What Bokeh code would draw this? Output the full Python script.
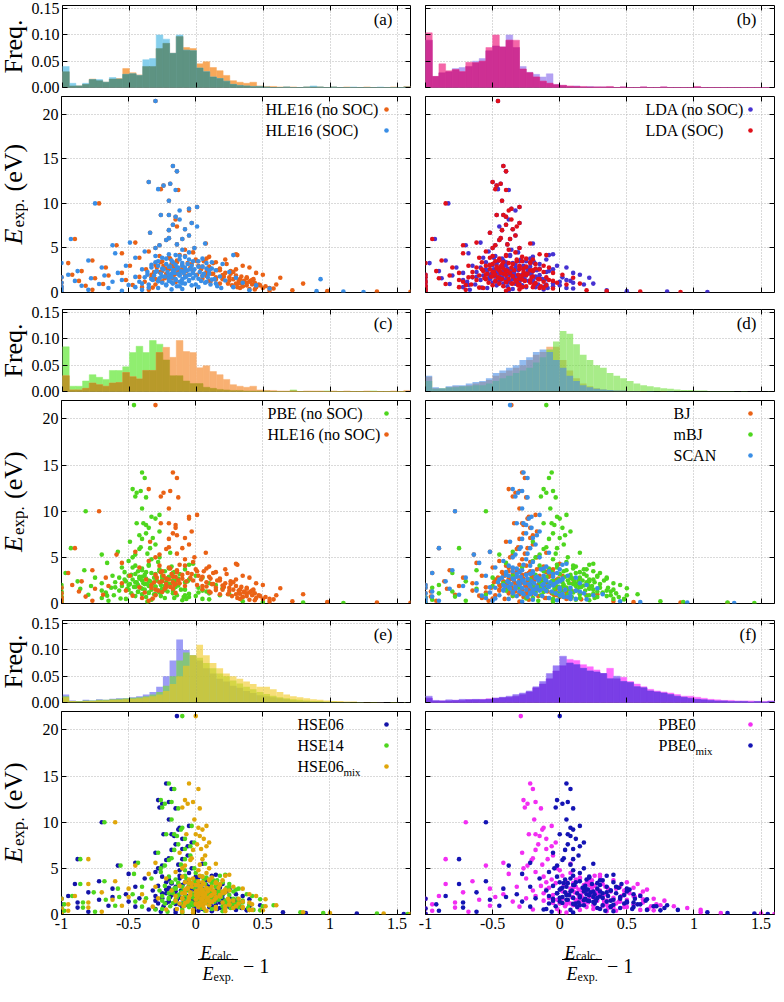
import math
from bokeh.plotting import figure
from bokeh.models import (Range1d, FixedTicker, LinearAxis, Grid, Label,
                          CustomJSTickFormatter, PrintfTickFormatter)
from bokeh.layouts import row, column
from bokeh.embed import file_html
from bokeh.resources import INLINE

FONT = "Liberation Serif"

# ---------------------------------------------------------------- data
X_TICKS = [-1, -0.5, 0, 0.5, 1, 1.5]
HIST_TICKS = [0, 0.05, 0.10, 0.15]
SCAT_TICKS = [0, 5, 10, 15, 20]
XR = (-1.0, 1.6)
HIST_YR = (0.0, 0.156)
SCAT_YR = (0.0, 22.0)
BIN_EDGES = [round(-1 + 0.05 * i, 2) for i in range(53)]

# experimental gaps (eV) of the materials shown
E_EXP_H = [21.5, 14.2, 13.6, 12.4, 12.2, 12.0, 11.6, 11.5, 10.3, 10.0,
           9.6, 9.4, 9.2, 8.7, 8.7, 8.5, 8.2, 7.8, 7.6, 7.4,
           7.1, 7.0, 6.7, 6.4, 6.1, 6.0, 6.0, 5.9, 5.6, 5.5,
           5.4, 5.3, 5.3, 5.0, 5.0]
E_EXP_M = [4.8, 4.6, 4.5, 4.4, 4.3, 4.2, 4.2, 4.1, 4.0, 3.9,
           3.8, 3.8, 3.7, 3.6, 3.5, 3.5, 3.4, 3.4, 3.3, 3.2,
           3.2, 3.1, 3.0, 3.0, 2.9, 2.9, 2.8, 2.8, 2.7, 2.7,
           2.6, 2.6, 2.5, 2.5, 2.4, 2.4, 2.3, 2.3, 2.2, 2.2,
           2.1, 2.1, 2.0, 2.0, 2.0]
E_EXP_L = [1.95, 1.9, 1.85, 1.8, 1.8, 1.75, 1.7, 1.7, 1.65, 1.6,
           1.6, 1.55, 1.5, 1.5, 1.45, 1.4, 1.4, 1.35, 1.3, 1.3,
           1.25, 1.2, 1.2, 1.15, 1.1, 1.1, 1.05, 1.0, 1.0, 0.95,
           0.9, 0.9, 0.85, 0.8, 0.75, 0.7, 0.65, 0.6, 0.55, 0.5,
           0.45, 0.4, 0.35, 0.3, 0.25, 0.2, 0.15, 0.1, 0.08, 0.05]
E_EXP_C = [4.1, 3.9, 3.7, 3.6, 3.5, 3.4, 3.3, 3.3, 3.2, 3.1,
           3.0, 3.0, 2.9, 2.9, 2.8, 2.8, 2.7, 2.7, 2.6, 2.6,
           2.5, 2.5, 2.5, 2.4, 2.4, 2.3, 2.3, 2.3, 2.2, 2.2,
           2.1, 2.1, 2.1, 2.0, 2.0, 1.9, 1.9, 1.9, 1.8, 1.8,
           1.7, 1.7, 1.7, 1.6, 1.6, 1.5, 1.5, 1.5, 1.4, 1.4,
           1.3, 1.3, 1.2, 1.2, 1.1, 1.1, 1.0, 1.0, 0.9, 0.9,
           0.8, 0.8, 0.7, 0.7, 0.6, 0.6, 0.5, 0.5, 0.4, 0.3]
E_EXP = E_EXP_H + E_EXP_M + E_EXP_L + E_EXP_C

# relative errors E_calc/E_exp - 1, same material order as E_EXP
X_HLE16_SOC = [
    -0.30, -0.17, -0.14, -0.35, -0.19, -0.24, -0.28, -0.15, -0.20, -0.75,
    0.01, -0.05, -0.12, -0.26, -0.20, -0.15, -0.12, -0.03, -0.17, 0.01,
    -0.08, -0.20, -0.34, -0.05, -0.20, -0.93, -0.10, -0.22, -0.49, 0.07,
    -0.14, -0.62, -0.27, -0.01, -0.30,
    -0.10, -0.38, -0.05, -0.60, -0.20, 0.28, -0.15, -0.30, -0.08, -0.45,
    0.05, -0.22, -0.12, -0.80, -0.02, -0.28, 0.12, -0.17, -1.0, -0.06,
    0.20, -0.33, -0.10, -0.52, 0.02, -0.20, -0.70, -0.13, 0.08, -0.25,
    -0.04, -0.40, 0.15, -0.16, -0.88, -0.08, 0.25, -0.30, -0.02, -0.58,
    -0.18, 0.10, -0.05, -0.36, -0.95,
    -0.12, -0.68, 0.05, -0.25, 0.18, -0.45, -0.08, -1.0, 0.30, -0.20,
    -0.78, 0.02, 0.93, -0.33, 0.12, -0.15, -0.55, 0.22, -0.05, -0.90,
    -0.28, 0.08, -0.62, -0.18, 0.35, -1.0, -0.10, -0.40, 0.15, -0.72,
    0.0, -0.22, -0.50, 0.45, -0.85, -0.12, -1.0, 0.28, -0.35, -0.65,
    0.55, -1.0, -0.18, -0.80, 0.40, -0.55, 0.90, 1.10, -1.0, 1.25,
    -0.12, -0.25, -0.05, -0.18, 0.02, -0.30, -0.10, 0.08, -0.22, -0.15,
    -0.03, -0.28, -0.19, 0.05, -0.08, -0.33, -0.14, 0.12, -0.24, -0.01,
    -0.17, -0.06, 0.10, -0.29, -0.11, -0.21, 0.03, -0.36, -0.09, -0.16,
    0.06, -0.26, -0.13, -0.04, -0.20, -0.31, 0.00, -0.12, -0.07, -0.23,
    0.09, -0.18, -0.38, -0.02, -0.27, -0.10, 0.14, -0.15, -0.05, -0.32,
    -0.20, 0.04, -0.12, -0.42, -0.25, 0.07, -0.08, -0.17, 0.11, -0.35,
    -0.03, -0.22, 0.16, -0.14, -0.45, 0.02, -0.28, 0.19, -0.10, -0.40]
X_HLE16_NOSOC = [
    -0.30, -0.17, -0.14, -0.35, -0.19, -0.24, -0.26, -0.13, -0.20, -0.72,
    0.01, -0.05, -0.05, -0.26, -0.20, -0.15, -0.15, -0.03, -0.17, -0.14,
    -0.08, -0.20, -0.34, -0.05, -0.20, -0.90, -0.10, -0.22, -0.45, 0.075,
    -0.14, -0.59, -0.27, -0.01, -0.30,
    -0.08, -0.35, -0.02, -0.55, 0.30, 0.31, -0.12, -0.27, 0.10, -0.42,
    0.08, -0.19, 0.22, -0.77, 0.01, -0.25, 0.15, -0.14, -0.95, -0.03,
    0.23, -0.30, 0.35, -0.49, 0.05, -0.17, -0.67, 0.40, 0.11, -0.22,
    0.30, -0.37, 0.18, -0.13, -0.85, 0.26, 0.28, -0.27, 0.45, -0.55,
    -0.15, 0.13, 0.50, -0.33, -0.92,
    0.20, -0.65, 0.08, -0.22, 0.21, -0.42, 0.38, -1.0, 0.63, -0.17,
    -0.75, 0.05, 0.43, -0.30, 0.15, 0.32, -0.52, 0.25, 0.41, -0.87,
    -0.25, 0.11, 0.36, -0.15, 0.38, -1.0, 0.33, 0.80, 0.18, -0.69,
    0.60, 0.42, -0.47, 0.48, -0.82, 0.35, -1.0, 0.31, -0.32, 0.50,
    0.58, -1.0, 0.44, -0.77, 0.72, 0.55, 0.98, 1.35, 1.60, -1.0,
    -0.08, -0.20, 0.00, -0.14, 0.06, -0.26, -0.06, 0.13, -0.18, -0.10,
    0.02, -0.24, -0.15, 0.10, -0.04, -0.29, -0.10, 0.18, -0.20, 0.04,
    -0.13, -0.02, 0.16, -0.25, -0.07, -0.17, 0.08, -0.31, 0.22, -0.12,
    0.12, -0.22, 0.26, 0.01, -0.16, 0.30, 0.05, -0.08, 0.34, -0.19,
    0.15, 0.25, -0.33, 0.38, -0.23, 0.28, 0.20, 0.33, 0.42, -0.28,
    0.36, 0.10, 0.40, -0.38, 0.32, 0.44, 0.24, 0.30, 0.47, -0.30,
    0.38, 0.27, 0.52, 0.35, -0.40, 0.45, 0.33, 0.55, 0.40, -0.35]
X_LDA_SOC = [
    -0.46, -0.42, -0.40, -0.50, -0.44, -0.47, -0.48, -0.40, -0.43, -0.85,
    -0.30, -0.36, -0.38, -0.47, -0.42, -0.40, -0.36, -0.30, -0.40, -0.32,
    -0.35, -0.43, -0.52, -0.33, -0.44, -0.95, -0.37, -0.45, -0.62, -0.22,
    -0.39, -0.72, -0.48, -0.30, -0.50,
    -0.38, -0.55, -0.33, -0.72, -0.15, -0.10, -0.40, -0.50, -0.28, -0.60,
    -0.25, -0.45, -0.20, -0.88, -0.32, -0.48, -0.22, -0.42, -1.0, -0.35,
    -0.18, -0.52, -0.12, -0.68, -0.30, -0.44, -0.80, -0.08, -0.27, -0.47,
    -0.15, -0.58, -0.22, -0.40, -0.92, -0.20, -0.12, -0.50, -0.05, -0.75,
    -0.42, -0.25, 0.02, -0.55, -1.0,
    -0.25, -0.82, -0.35, -0.50, -0.20, -0.65, -0.10, -1.0, 0.10, -0.45,
    -0.90, -0.30, -0.15, -0.55, -0.28, -0.08, -0.75, -0.22, -0.05, -1.0,
    -0.48, -0.32, -0.12, -0.40, -0.02, -1.0, -0.18, 0.15, -0.35, -0.85,
    0.05, -0.30, -0.70, -0.10, -1.0, -0.25, -1.0, -0.20, -0.60, -0.15,
    -0.05, -1.0, -0.30, -1.0, 0.20, -0.40, 0.35, 0.60, -1.0, 0.90,
    -0.40, -0.52, -0.32, -0.45, -0.28, -0.58, -0.38, -0.22, -0.50, -0.43,
    -0.30, -0.55, -0.47, -0.25, -0.36, -0.62, -0.42, -0.18, -0.52, -0.30,
    -0.45, -0.34, -0.20, -0.57, -0.39, -0.49, -0.27, -0.65, -0.37, -0.44,
    -0.24, -0.54, -0.41, -0.31, -0.48, -0.60, -0.28, -0.40, -0.35, -0.51,
    -0.21, -0.46, -0.68, -0.30, -0.56, -0.38, -0.16, -0.43, -0.33, -0.62,
    -0.48, -0.26, -0.40, -0.72, -0.53, -0.22, -0.36, -0.45, -0.19, -0.66,
    -0.31, -0.50, -0.14, -0.42, -0.75, -0.28, -0.57, -0.12, -0.38, -0.70]
X_LDA_NOSOC = [
    -0.46, -0.42, -0.40, -0.50, -0.44, -0.47, -0.46, -0.38, -0.43, -0.83,
    -0.30, -0.36, -0.33, -0.47, -0.42, -0.40, -0.38, -0.30, -0.40, -0.45,
    -0.35, -0.43, -0.52, -0.33, -0.44, -0.93, -0.37, -0.45, -0.59, -0.20,
    -0.39, -0.70, -0.48, -0.30, -0.50,
    -0.36, -0.53, -0.31, -0.68, -0.05, -0.08, -0.37, -0.48, -0.20, -0.57,
    -0.22, -0.43, -0.10, -0.85, -0.30, -0.46, -0.19, -0.40, -0.97, -0.33,
    -0.15, -0.50, -0.02, -0.65, -0.27, -0.42, -0.77, 0.05, -0.24, -0.45,
    -0.05, -0.55, -0.19, -0.38, -0.90, -0.08, -0.10, -0.48, 0.10, -0.72,
    -0.40, -0.22, 0.15, -0.52, -1.0,
    -0.15, -0.80, -0.33, -0.48, -0.18, -0.62, 0.02, -1.0, 0.22, -0.43,
    -0.88, -0.28, -0.10, -0.52, -0.26, 0.05, -0.72, -0.20, 0.08, -1.0,
    -0.45, -0.30, 0.0, -0.38, 0.10, -1.0, -0.05, 0.25, -0.33, -0.82,
    0.18, -0.10, -0.68, 0.0, -1.0, -0.05, -1.0, -0.18, -0.58, 0.05,
    0.10, -1.0, -0.12, -1.0, 0.35, -0.38, 0.50, 0.80, -1.0, 1.10,
    -0.37, -0.49, -0.29, -0.42, -0.25, -0.55, -0.35, -0.19, -0.47, -0.40,
    -0.27, -0.52, -0.44, -0.22, -0.33, -0.59, -0.39, -0.15, -0.49, -0.27,
    -0.42, -0.31, -0.17, -0.54, -0.36, -0.46, -0.24, -0.62, -0.34, -0.41,
    -0.21, -0.51, -0.38, -0.28, -0.45, -0.57, -0.25, -0.37, -0.32, -0.48,
    -0.18, -0.43, -0.65, -0.27, -0.53, -0.35, -0.13, -0.40, -0.30, -0.59,
    -0.45, -0.23, -0.37, -0.69, -0.50, -0.19, -0.33, -0.42, -0.16, -0.63,
    -0.28, -0.47, -0.11, -0.39, -0.72, -0.25, -0.54, -0.09, -0.35, -0.67]
X_PBE_NOSOC = [
    -0.46, -0.40, -0.38, -0.47, -0.41, -0.44, -0.45, -0.37, -0.40, -0.82,
    -0.27, -0.33, -0.30, -0.44, -0.39, -0.37, -0.35, -0.27, -0.37, -0.42,
    -0.32, -0.40, -0.49, -0.30, -0.41, -0.93, -0.34, -0.42, -0.58, -0.19,
    -0.36, -0.70, -0.45, -0.27, -0.47,
    -0.33, -0.50, -0.28, -0.66, -0.02, -0.05, -0.35, -0.45, -0.18, -0.55,
    -0.20, -0.40, -0.08, -0.83, -0.27, -0.43, -0.16, -0.37, -0.97, -0.30,
    -0.12, -0.48, 0.0, -0.62, -0.25, -0.40, -0.75, 0.05, -0.22, -0.42,
    -0.05, -0.53, -0.17, -0.35, -0.88, -0.06, -0.08, -0.45, 0.10, -0.70,
    -0.38, -0.20, 0.15, -0.50, -1.0,
    -0.13, -0.78, -0.30, -0.45, -0.15, -0.60, 0.02, -1.0, 0.20, -0.40,
    -0.86, -0.25, -0.08, -0.50, -0.23, 0.05, -0.70, -0.17, 0.08, -1.0,
    -0.43, -0.27, 0.02, -0.35, 0.10, -1.0, -0.05, 0.25, -0.30, -0.80,
    0.18, -0.08, -0.66, 0.0, -1.0, -0.05, -1.0, -0.16, -0.56, 0.05,
    0.10, -1.0, -0.10, -1.0, 0.35, -0.36, 0.50, 0.80, -1.0, 1.10,
    -0.35, -0.47, -0.27, -0.40, -0.23, -0.53, -0.33, -0.17, -0.45, -0.38,
    -0.25, -0.50, -0.42, -0.20, -0.31, -0.57, -0.37, -0.13, -0.47, -0.25,
    -0.40, -0.29, -0.15, -0.52, -0.34, -0.44, -0.22, -0.60, -0.32, -0.39,
    -0.19, -0.49, -0.36, -0.26, -0.43, -0.55, -0.23, -0.35, -0.30, -0.46,
    -0.16, -0.41, -0.63, -0.25, -0.51, -0.33, -0.11, -0.38, -0.28, -0.57,
    -0.43, -0.21, -0.35, -0.67, -0.48, -0.17, -0.31, -0.40, -0.14, -0.61,
    -0.26, -0.45, -0.09, -0.37, -0.70, -0.23, -0.52, -0.07, -0.33, -0.65]
X_SCAN = [
    -0.37, -0.27, -0.24, -0.35, -0.28, -0.31, -0.33, -0.24, -0.28, -0.78,
    -0.15, -0.21, -0.23, -0.32, -0.27, -0.25, -0.21, -0.15, -0.25, -0.17,
    -0.20, -0.28, -0.37, -0.18, -0.29, -0.90, -0.22, -0.30, -0.52, -0.08,
    -0.24, -0.64, -0.33, -0.15, -0.35,
    -0.25, -0.42, -0.20, -0.60, 0.05, 0.02, -0.27, -0.38, -0.10, -0.48,
    -0.12, -0.32, 0.0, -0.80, -0.20, -0.35, -0.08, -0.30, -0.95, -0.22,
    -0.05, -0.40, 0.06, -0.55, -0.17, -0.32, -0.70, 0.12, -0.15, -0.35,
    0.02, -0.45, -0.10, -0.28, -0.85, 0.0, -0.02, -0.38, 0.15, -0.62,
    -0.30, -0.12, 0.20, -0.42, -1.0,
    -0.05, -0.72, -0.22, -0.38, -0.08, -0.52, 0.08, -1.0, 0.28, -0.33,
    -0.82, -0.18, 0.0, -0.42, -0.15, 0.12, -0.62, -0.10, 0.15, -0.95,
    -0.35, -0.20, 0.08, -0.28, 0.18, -1.0, 0.02, 0.32, -0.22, -0.75,
    0.25, 0.0, -0.58, 0.08, -0.95, 0.03, -1.0, -0.08, -0.48, 0.12,
    0.20, -1.0, -0.02, -0.90, 0.45, -0.28, 0.60, 0.95, -1.0, 1.30,
    -0.22, -0.35, -0.14, -0.28, -0.08, -0.40, -0.20, -0.02, -0.32, -0.25,
    -0.12, -0.38, -0.29, -0.05, -0.18, -0.43, -0.24, 0.02, -0.34, -0.11,
    -0.27, -0.16, 0.00, -0.39, -0.21, -0.31, -0.07, -0.46, -0.19, -0.26,
    -0.04, -0.36, -0.23, -0.13, -0.30, -0.41, -0.09, -0.22, -0.17, -0.33,
    0.00, -0.28, -0.48, -0.12, -0.37, -0.20, 0.04, -0.25, -0.15, -0.42,
    -0.30, -0.06, -0.22, -0.52, -0.35, -0.03, -0.18, -0.27, 0.01, -0.45,
    -0.13, -0.32, 0.06, -0.24, -0.55, -0.08, -0.38, 0.08, -0.20, -0.50]
X_MBJ = [
    -0.10, -0.06, -0.08, -0.12, -0.05, -0.10, -0.14, -0.03, -0.07, -0.55,
    0.05, -0.02, 0.0, -0.12, -0.06, -0.04, 0.02, 0.08, -0.05, 0.04,
    0.0, -0.08, -0.20, 0.03, -0.10, -0.75, -0.02, -0.12, -0.35, 0.15,
    -0.03, -0.45, -0.15, 0.06, -0.18,
    -0.05, -0.20, 0.05, -0.40, 0.25, 0.22, -0.02, -0.15, 0.12, -0.28,
    0.10, -0.08, 0.20, -0.62, 0.03, -0.12, 0.15, -0.06, -0.80, 0.0,
    0.18, -0.18, 0.28, -0.35, 0.08, -0.10, -0.50, 0.35, 0.10, -0.12,
    0.25, -0.22, 0.14, -0.05, -0.70, 0.22, 0.20, -0.15, 0.40, -0.42,
    -0.08, 0.12, 0.45, -0.20, -0.90,
    0.18, -0.50, 0.02, -0.15, 0.15, -0.30, 0.30, -0.95, 0.50, -0.10,
    -0.62, 0.05, 0.25, -0.20, 0.08, 0.35, -0.40, 0.12, 0.38, -0.80,
    -0.12, 0.0, 0.32, -0.05, 0.42, -0.90, 0.25, 0.58, 0.02, -0.55,
    0.50, 0.22, -0.35, 0.35, -0.78, 0.28, -1.0, 0.15, -0.25, 0.40,
    0.48, -0.95, 0.22, -0.70, 0.75, -0.05, 0.92, 1.25, -1.0, 1.45,
    0.10, -0.02, 0.18, 0.05, 0.25, -0.08, 0.12, 0.30, 0.00, 0.08,
    0.20, -0.05, 0.04, 0.28, 0.15, -0.10, 0.09, 0.35, -0.01, 0.22,
    0.06, 0.17, 0.33, -0.06, 0.11, 0.02, 0.26, -0.12, 0.14, 0.07,
    0.30, -0.03, 0.10, 0.21, 0.03, -0.09, 0.24, 0.12, 0.16, -0.01,
    0.36, 0.05, -0.15, 0.22, -0.04, 0.13, 0.40, 0.08, 0.19, -0.10,
    0.02, 0.28, 0.10, -0.18, -0.02, 0.32, 0.15, 0.06, 0.38, -0.14,
    0.20, 0.00, 0.44, 0.09, -0.20, 0.26, -0.05, 0.48, 0.12, -0.16]
X_BJ = [
    -0.36, -0.28, -0.26, -0.38, -0.30, -0.33, -0.35, -0.25, -0.30, -0.78,
    -0.18, -0.23, -0.24, -0.34, -0.28, -0.27, -0.22, -0.17, -0.27, -0.20,
    -0.22, -0.30, -0.40, -0.20, -0.31, -0.90, -0.24, -0.32, -0.52, -0.10,
    -0.26, -0.64, -0.35, -0.17, -0.37,
    -0.28, -0.45, -0.22, -0.62, 0.0, -0.02, -0.30, -0.40, -0.12, -0.50,
    -0.15, -0.35, -0.05, -0.82, -0.22, -0.38, -0.10, -0.32, -0.95, -0.25,
    -0.08, -0.42, 0.02, -0.58, -0.20, -0.35, -0.72, 0.08, -0.18, -0.38,
    -0.02, -0.48, -0.12, -0.30, -0.86, -0.03, -0.05, -0.40, 0.10, -0.65,
    -0.32, -0.15, 0.15, -0.45, -1.0,
    -0.08, -0.75, -0.25, -0.40, -0.10, -0.55, 0.05, -1.0, 0.22, -0.35,
    -0.84, -0.20, -0.03, -0.45, -0.18, 0.08, -0.65, -0.12, 0.10, -0.96,
    -0.38, -0.22, 0.05, -0.30, 0.15, -1.0, -0.02, 0.28, -0.25, -0.78,
    0.20, -0.04, -0.60, 0.05, -0.96, 0.0, -1.0, -0.10, -0.50, 0.08,
    0.16, -1.0, -0.05, -0.92, 0.40, -0.30, 0.55, 0.90, -1.0, 1.25,
    -0.25, -0.38, -0.17, -0.31, -0.11, -0.43, -0.23, -0.05, -0.35, -0.28,
    -0.15, -0.41, -0.32, -0.08, -0.21, -0.46, -0.27, -0.01, -0.37, -0.14,
    -0.30, -0.19, -0.03, -0.42, -0.24, -0.34, -0.10, -0.49, -0.22, -0.29,
    -0.07, -0.39, -0.26, -0.16, -0.33, -0.44, -0.12, -0.25, -0.20, -0.36,
    -0.03, -0.31, -0.51, -0.15, -0.40, -0.23, 0.01, -0.28, -0.18, -0.45,
    -0.33, -0.09, -0.25, -0.55, -0.38, -0.06, -0.21, -0.30, -0.02, -0.48,
    -0.16, -0.35, 0.03, -0.27, -0.58, -0.11, -0.41, 0.05, -0.23, -0.53]
X_HSE06 = [
    -0.14, -0.22, -0.18, -0.28, -0.20, -0.25, -0.27, -0.15, -0.20, -0.70,
    -0.05, -0.12, -0.13, -0.24, -0.18, -0.16, -0.10, -0.03, -0.15, -0.06,
    -0.10, -0.18, -0.30, -0.06, -0.20, -0.88, -0.10, -0.22, -0.45, 0.05,
    -0.13, -0.58, -0.25, -0.03, -0.28,
    -0.12, -0.30, -0.05, -0.50, 0.15, 0.12, -0.12, -0.25, 0.02, -0.38,
    0.0, -0.20, 0.10, -0.72, -0.08, -0.22, 0.05, -0.18, -0.90, -0.10,
    0.08, -0.28, 0.18, -0.45, -0.03, -0.20, -0.62, 0.25, 0.0, -0.22,
    0.15, -0.32, 0.04, -0.15, -0.80, 0.12, 0.10, -0.25, 0.30, -0.52,
    -0.18, 0.02, 0.35, -0.30, -0.95,
    0.05, -0.62, -0.08, -0.25, 0.02, -0.42, 0.20, -1.0, 0.40, -0.20,
    -0.72, -0.05, 0.15, -0.30, -0.02, 0.25, -0.50, 0.02, 0.28, -0.88,
    -0.22, -0.10, 0.22, -0.15, 0.32, -1.0, 0.15, 0.48, -0.08, -0.65,
    0.40, 0.12, -0.45, 0.25, -0.88, 0.18, -1.0, 0.05, -0.35, 0.30,
    0.38, -1.0, 0.12, -0.80, 0.65, -0.15, 0.82, 1.20, -1.0, 1.55,
    0.00, -0.12, 0.08, -0.05, 0.15, -0.18, 0.02, 0.20, -0.10, -0.03,
    0.10, -0.15, -0.06, 0.18, 0.05, -0.20, -0.01, 0.25, -0.11, 0.12,
    -0.04, 0.07, 0.23, -0.16, 0.01, -0.08, 0.16, -0.22, 0.04, -0.03,
    0.20, -0.13, 0.00, 0.11, -0.07, -0.19, 0.14, 0.02, 0.06, -0.11,
    0.26, -0.05, -0.25, 0.12, -0.14, 0.03, 0.30, -0.02, 0.09, -0.20,
    -0.08, 0.18, 0.00, -0.28, -0.12, 0.22, 0.05, -0.04, 0.28, -0.24,
    0.10, -0.10, 0.34, -0.01, -0.30, 0.16, -0.15, 0.38, 0.02, -0.26]
X_HSE14 = [
    -0.10, -0.20, -0.16, -0.26, -0.18, -0.23, -0.25, -0.13, -0.18, -0.68,
    -0.03, -0.10, -0.11, -0.22, -0.16, -0.14, -0.08, -0.01, -0.13, -0.04,
    -0.08, -0.16, -0.28, -0.04, -0.18, -0.86, -0.08, -0.20, -0.43, 0.07,
    -0.11, -0.56, -0.23, -0.01, -0.26,
    -0.08, -0.26, 0.0, -0.46, 0.22, 0.18, -0.08, -0.20, 0.08, -0.33,
    0.06, -0.15, 0.16, -0.68, -0.02, -0.18, 0.12, -0.13, -0.86, -0.05,
    0.15, -0.23, 0.25, -0.40, 0.03, -0.15, -0.58, 0.32, 0.06, -0.17,
    0.22, -0.27, 0.10, -0.10, -0.76, 0.18, 0.17, -0.20, 0.38, -0.47,
    -0.13, 0.08, 0.42, -0.25, -0.92,
    0.12, -0.57, -0.02, -0.20, 0.08, -0.37, 0.28, -1.0, 0.48, -0.15,
    -0.67, 0.02, 0.22, -0.25, 0.05, 0.32, -0.45, 0.08, 0.35, -0.84,
    -0.17, -0.04, 0.30, -0.10, 0.40, -0.98, 0.22, 0.58, -0.02, -0.60,
    0.50, 0.20, -0.40, 0.32, -0.84, 0.26, -1.0, 0.12, -0.30, 0.40,
    0.48, -0.98, 0.20, -0.75, 0.78, -0.10, 0.95, 1.35, -1.0, 1.58,
    0.05, -0.07, 0.13, 0.00, 0.20, -0.13, 0.07, 0.25, -0.05, 0.02,
    0.15, -0.10, -0.01, 0.23, 0.10, -0.15, 0.04, 0.30, -0.06, 0.17,
    0.01, 0.12, 0.28, -0.11, 0.06, -0.03, 0.21, -0.17, 0.09, 0.02,
    0.25, -0.08, 0.05, 0.16, -0.02, -0.14, 0.19, 0.07, 0.11, -0.06,
    0.31, 0.00, -0.20, 0.17, -0.09, 0.08, 0.35, 0.03, 0.14, -0.15,
    -0.03, 0.23, 0.05, -0.23, -0.07, 0.27, 0.10, 0.01, 0.33, -0.19,
    0.15, -0.05, 0.39, 0.04, -0.25, 0.21, -0.10, 0.43, 0.07, -0.21]
X_HSE06MIX = [
    0.0, -0.05, 0.02, -0.08, -0.02, -0.06, -0.10, 0.03, -0.01, -0.60,
    0.08, 0.02, 0.05, -0.07, 0.0, 0.03, 0.06, 0.10, 0.01, 0.08,
    0.04, -0.02, -0.12, 0.07, -0.03, -0.80, 0.05, -0.04, -0.30, 0.15,
    0.03, -0.45, -0.08, 0.10, -0.10,
    0.02, -0.15, 0.08, -0.35, 0.25, 0.22, 0.03, -0.10, 0.12, -0.22,
    0.10, -0.05, 0.20, -0.60, 0.05, -0.08, 0.15, -0.03, -0.80, 0.02,
    0.18, -0.12, 0.28, -0.30, 0.08, -0.06, -0.50, 0.35, 0.10, -0.08,
    0.25, -0.18, 0.14, 0.0, -0.70, 0.22, 0.20, -0.10, 0.40, -0.40,
    -0.04, 0.12, 0.45, -0.15, -0.90,
    0.18, -0.50, 0.05, -0.10, 0.15, -0.28, 0.32, -1.0, 0.52, -0.05,
    -0.62, 0.08, 0.25, -0.15, 0.10, 0.35, -0.38, 0.12, 0.40, -0.80,
    -0.08, 0.02, 0.32, 0.0, 0.42, -0.95, 0.25, 0.60, 0.05, -0.55,
    0.52, 0.22, -0.32, 0.35, -0.80, 0.28, -1.0, 0.15, -0.22, 0.42,
    0.50, -0.95, 0.22, -0.70, 0.80, -0.02, 1.00, 1.40, -1.0, 1.60,
    0.05, -0.02, 0.10, 0.02, 0.15, -0.05, 0.06, 0.18, 0.00, 0.04,
    0.12, -0.03, 0.03, 0.17, 0.08, -0.06, 0.05, 0.22, 0.01, 0.13,
    0.04, 0.09, 0.20, -0.04, 0.06, 0.02, 0.14, -0.08, 0.07, 0.03,
    0.18, 0.00, 0.05, 0.11, 0.02, -0.05, 0.15, 0.06, 0.09, 0.01,
    0.24, 0.04, -0.10, 0.14, 0.00, 0.08, 0.28, 0.05, 0.12, -0.06,
    0.03, 0.20, 0.07, -0.12, 0.01, 0.25, 0.10, 0.04, 0.30, -0.09,
    0.15, 0.02, 0.35, 0.06, -0.14, 0.22, -0.02, 0.40, 0.08, -0.10]
X_PBE0 = [
    -0.29, -0.22, -0.20, -0.27, -0.18, -0.24, -0.26, -0.14, -0.19, -0.70,
    -0.06, -0.12, -0.13, -0.23, -0.18, -0.15, -0.10, -0.03, -0.16, -0.06,
    -0.10, -0.18, -0.28, -0.05, -0.20, -0.85, -0.09, -0.21, -0.42, 0.08,
    -0.13, -0.55, -0.24, -0.02, -0.27,
    0.0, -0.18, 0.08, -0.38, 0.30, 0.26, 0.02, -0.12, 0.15, -0.25,
    0.12, -0.06, 0.24, -0.65, 0.05, -0.10, 0.20, -0.03, -0.85, 0.03,
    0.22, -0.14, 0.34, -0.32, 0.10, -0.08, -0.52, 0.42, 0.14, -0.10,
    0.30, -0.20, 0.18, 0.02, -0.72, 0.28, 0.25, -0.12, 0.48, -0.42,
    -0.05, 0.16, 0.55, -0.18, -0.90,
    0.25, -0.48, 0.10, -0.08, 0.22, -0.25, 0.40, -1.0, 0.62, -0.02,
    -0.60, 0.12, 0.33, -0.12, 0.16, 0.45, -0.35, 0.20, 0.50, -0.78,
    -0.05, 0.08, 0.42, 0.05, 0.55, -0.95, 0.35, 0.75, 0.10, -0.52,
    0.68, 0.32, -0.30, 0.50, -0.78, 0.40, -1.0, 0.25, -0.20, 0.60,
    0.70, -0.95, 0.35, -0.68, 1.05, 0.05, 1.20, 1.50, -1.0, 1.60,
    0.30, 0.15, 0.40, 0.22, 0.50, 0.10, 0.32, 0.58, 0.18, 0.26,
    0.45, 0.12, 0.24, 0.55, 0.36, 0.08, 0.28, 0.65, 0.16, 0.48,
    0.25, 0.38, 0.62, 0.11, 0.30, 0.20, 0.52, 0.05, 0.34, 0.27,
    0.60, 0.14, 0.30, 0.46, 0.22, 0.09, 0.56, 0.32, 0.40, 0.17,
    0.70, 0.26, 0.02, 0.50, 0.13, 0.35, 0.78, 0.28, 0.44, 0.06,
    0.21, 0.62, 0.33, 0.0, 0.18, 0.72, 0.40, 0.25, 0.85, 0.04,
    0.48, 0.20, 0.95, 0.36, -0.02, 0.66, 0.15, 1.05, 0.42, 0.0]
X_PBE0MIX = [
    0.0, 0.05, 0.08, -0.02, 0.06, 0.02, -0.03, 0.10, 0.05, -0.55,
    0.15, 0.08, 0.10, 0.0, 0.06, 0.08, 0.12, 0.18, 0.06, 0.15,
    0.10, 0.04, -0.05, 0.14, 0.03, -0.75, 0.10, 0.02, -0.22, 0.25,
    0.08, -0.38, -0.02, 0.18, -0.04,
    0.10, -0.08, 0.15, -0.28, 0.40, 0.35, 0.10, -0.02, 0.22, -0.15,
    0.20, 0.04, 0.32, -0.55, 0.12, 0.0, 0.28, 0.06, -0.75, 0.10,
    0.30, -0.05, 0.42, -0.22, 0.18, 0.02, -0.42, 0.50, 0.20, 0.0,
    0.38, -0.10, 0.25, 0.08, -0.62, 0.35, 0.32, -0.02, 0.55, -0.32,
    0.05, 0.22, 0.60, -0.08, -0.85,
    0.30, -0.40, 0.15, 0.0, 0.28, -0.18, 0.45, -1.0, 0.65, 0.05,
    -0.52, 0.18, 0.38, -0.05, 0.22, 0.50, -0.28, 0.25, 0.55, -0.72,
    0.02, 0.12, 0.48, 0.10, 0.60, -0.92, 0.40, 0.80, 0.15, -0.45,
    0.72, 0.38, -0.22, 0.55, -0.72, 0.45, -1.0, 0.30, -0.12, 0.65,
    0.75, -0.90, 0.40, -0.62, 1.10, 0.10, 1.25, 1.45, -1.0, 1.55,
    0.22, 0.08, 0.30, 0.15, 0.40, 0.03, 0.24, 0.46, 0.11, 0.19,
    0.35, 0.05, 0.17, 0.44, 0.28, 0.01, 0.21, 0.52, 0.09, 0.38,
    0.18, 0.30, 0.50, 0.04, 0.23, 0.13, 0.42, -0.02, 0.26, 0.20,
    0.48, 0.07, 0.22, 0.36, 0.15, 0.02, 0.45, 0.25, 0.32, 0.10,
    0.56, 0.19, -0.05, 0.40, 0.06, 0.27, 0.64, 0.21, 0.35, 0.00,
    0.14, 0.50, 0.26, -0.08, 0.11, 0.58, 0.32, 0.18, 0.70, -0.03,
    0.38, 0.13, 0.78, 0.28, -0.10, 0.54, 0.08, 0.88, 0.34, -0.06]

# histogram frequencies, bins of width 0.05 from -1 to 1.6
H_HLE16_SOC = [
    0.040, 0.008, 0.003, 0.008, 0.015, 0.015, 0.010, 0.019, 0.016, 0.025,
    0.026, 0.023, 0.053, 0.055, 0.100, 0.092, 0.065, 0.100, 0.071, 0.070,
    0.037, 0.030, 0.020, 0.017, 0.012, 0.006, 0.004, 0.003, 0.002, 0.002,
    0.001, 0.000, 0.000, 0.001, 0.000, 0.000, 0.001, 0.003, 0.001, 0.000,
    0.001, 0.000, 0.000, 0.001, 0.000, 0.000, 0.000, 0.001, 0.000, 0.000,
    0.000, 0.001]
H_HLE16_NOSOC = [
    0.030, 0.003, 0.003, 0.006, 0.016, 0.013, 0.010, 0.016, 0.017, 0.036,
    0.028, 0.024, 0.040, 0.040, 0.074, 0.084, 0.065, 0.097, 0.076, 0.074,
    0.045, 0.049, 0.038, 0.032, 0.023, 0.013, 0.010, 0.008, 0.010, 0.003,
    0.002, 0.002, 0.001, 0.001, 0.001, 0.000, 0.001, 0.001, 0.001, 0.000,
    0.001, 0.000, 0.001, 0.000, 0.000, 0.001, 0.000, 0.000, 0.000, 0.001,
    0.000, 0.002]
H_LDA_NOSOC = [
    0.090, 0.021, 0.028, 0.030, 0.036, 0.038, 0.040, 0.050, 0.055, 0.070,
    0.079, 0.077, 0.100, 0.076, 0.040, 0.029, 0.025, 0.020, 0.026, 0.006,
    0.004, 0.002, 0.003, 0.001, 0.002, 0.001, 0.001, 0.001, 0.000, 0.001,
    0.000, 0.000, 0.001, 0.000, 0.000, 0.001, 0.000, 0.000, 0.000, 0.000,
    0.001, 0.000, 0.000, 0.000, 0.000, 0.000, 0.000, 0.000, 0.000, 0.000,
    0.000, 0.000]
H_LDA_SOC = [
    0.104, 0.021, 0.045, 0.032, 0.034, 0.030, 0.048, 0.047, 0.050, 0.076,
    0.100, 0.077, 0.090, 0.090, 0.035, 0.028, 0.020, 0.012, 0.008, 0.005,
    0.004, 0.003, 0.002, 0.002, 0.001, 0.001, 0.001, 0.002, 0.000, 0.001,
    0.000, 0.000, 0.001, 0.000, 0.000, 0.001, 0.000, 0.000, 0.000, 0.000,
    0.002, 0.000, 0.000, 0.000, 0.000, 0.000, 0.000, 0.000, 0.000, 0.000,
    0.000, 0.000]
H_PBE_NOSOC = [
    0.085, 0.010, 0.010, 0.020, 0.032, 0.027, 0.023, 0.040, 0.040, 0.047,
    0.074, 0.086, 0.074, 0.097, 0.090, 0.060, 0.030, 0.030, 0.020, 0.015,
    0.015, 0.008, 0.006, 0.004, 0.003, 0.002, 0.002, 0.001, 0.001, 0.001,
    0.001, 0.000, 0.000, 0.000, 0.003, 0.000, 0.000, 0.000, 0.000, 0.001,
    0.000, 0.000, 0.000, 0.000, 0.000, 0.000, 0.001, 0.000, 0.000, 0.000,
    0.000, 0.000]
H_SCAN = [
    0.030, 0.008, 0.006, 0.010, 0.012, 0.012, 0.015, 0.018, 0.020, 0.025,
    0.035, 0.040, 0.045, 0.050, 0.060, 0.065, 0.075, 0.080, 0.075, 0.060,
    0.045, 0.030, 0.020, 0.012, 0.008, 0.005, 0.004, 0.003, 0.002, 0.002,
    0.001, 0.001, 0.000, 0.001, 0.000, 0.000, 0.001, 0.000, 0.000, 0.000,
    0.000, 0.000, 0.000, 0.000, 0.000, 0.000, 0.000, 0.000, 0.000, 0.000,
    0.000, 0.000]
H_BJ = [
    0.028, 0.006, 0.005, 0.008, 0.010, 0.010, 0.012, 0.015, 0.018, 0.022,
    0.030, 0.035, 0.040, 0.045, 0.050, 0.060, 0.070, 0.075, 0.085, 0.085,
    0.060, 0.040, 0.025, 0.015, 0.010, 0.006, 0.004, 0.003, 0.002, 0.002,
    0.001, 0.001, 0.001, 0.000, 0.000, 0.001, 0.000, 0.000, 0.000, 0.000,
    0.000, 0.000, 0.000, 0.000, 0.000, 0.000, 0.000, 0.000, 0.000, 0.000,
    0.000, 0.000]
H_MBJ = [
    0.020, 0.005, 0.006, 0.008, 0.008, 0.010, 0.010, 0.012, 0.012, 0.015,
    0.020, 0.025, 0.030, 0.035, 0.040, 0.045, 0.055, 0.065, 0.080, 0.095,
    0.115, 0.110, 0.090, 0.070, 0.060, 0.050, 0.045, 0.035, 0.030, 0.025,
    0.020, 0.015, 0.012, 0.010, 0.008, 0.006, 0.005, 0.004, 0.003, 0.003,
    0.002, 0.002, 0.001, 0.001, 0.001, 0.001, 0.000, 0.001, 0.000, 0.000,
    0.000, 0.001]
H_HSE06 = [
    0.015, 0.004, 0.003, 0.005, 0.004, 0.006, 0.005, 0.007, 0.008, 0.008,
    0.010, 0.012, 0.015, 0.020, 0.030, 0.050, 0.080, 0.120, 0.100, 0.090,
    0.080, 0.065, 0.055, 0.045, 0.040, 0.032, 0.028, 0.022, 0.018, 0.014,
    0.012, 0.010, 0.008, 0.006, 0.004, 0.003, 0.003, 0.002, 0.002, 0.001,
    0.001, 0.001, 0.001, 0.000, 0.001, 0.000, 0.000, 0.001, 0.000, 0.000,
    0.000, 0.001]
H_HSE14 = [
    0.012, 0.003, 0.003, 0.004, 0.004, 0.005, 0.005, 0.006, 0.007, 0.008,
    0.009, 0.010, 0.012, 0.015, 0.020, 0.032, 0.050, 0.080, 0.095, 0.090,
    0.085, 0.075, 0.065, 0.055, 0.050, 0.042, 0.036, 0.030, 0.025, 0.020,
    0.016, 0.013, 0.010, 0.008, 0.006, 0.005, 0.004, 0.003, 0.003, 0.002,
    0.002, 0.001, 0.001, 0.001, 0.001, 0.000, 0.001, 0.000, 0.000, 0.001,
    0.000, 0.001]
H_HSE06MIX = [
    0.010, 0.003, 0.002, 0.003, 0.003, 0.004, 0.004, 0.005, 0.005, 0.006,
    0.007, 0.008, 0.010, 0.012, 0.015, 0.022, 0.035, 0.050, 0.070, 0.090,
    0.110, 0.090, 0.075, 0.065, 0.055, 0.050, 0.045, 0.040, 0.035, 0.030,
    0.030, 0.025, 0.020, 0.015, 0.012, 0.010, 0.008, 0.006, 0.005, 0.004,
    0.003, 0.003, 0.002, 0.002, 0.001, 0.001, 0.001, 0.001, 0.000, 0.001,
    0.000, 0.001]
H_PBE0 = [
    0.008, 0.003, 0.003, 0.003, 0.004, 0.004, 0.005, 0.005, 0.006, 0.007,
    0.008, 0.009, 0.010, 0.012, 0.015, 0.020, 0.028, 0.035, 0.045, 0.060,
    0.070, 0.082, 0.080, 0.072, 0.068, 0.062, 0.055, 0.065, 0.045, 0.048,
    0.040, 0.035, 0.030, 0.025, 0.022, 0.020, 0.018, 0.015, 0.012, 0.012,
    0.010, 0.008, 0.006, 0.005, 0.004, 0.004, 0.003, 0.003, 0.003, 0.002,
    0.002, 0.003]
H_PBE0MIX = [
    0.012, 0.004, 0.003, 0.005, 0.004, 0.006, 0.005, 0.006, 0.005, 0.006,
    0.008, 0.010, 0.012, 0.015, 0.018, 0.022, 0.030, 0.040, 0.055, 0.070,
    0.088, 0.075, 0.072, 0.065, 0.060, 0.058, 0.055, 0.045, 0.050, 0.040,
    0.038, 0.030, 0.028, 0.022, 0.020, 0.018, 0.015, 0.012, 0.010, 0.008,
    0.006, 0.005, 0.004, 0.003, 0.003, 0.002, 0.002, 0.002, 0.001, 0.002,
    0.001, 0.002]

# ---------------------------------------------------------------- styles
C_ORANGE = "#ea6216"
C_BLUE = "#3a8ee6"
C_GREEN = "#4ed61e"
C_LDA_NOSOC = "#4632d2"
C_LDA_SOC = "#e0101a"
C_HSE06 = "#1414a8"
C_HSE06MIX = "#e0a60a"
C_PBE0 = "#f22ef2"
C_PBE0MIX = "#1414b4"

FRAME_W = 349
STRIP_W = 28
LEFT_B = (33, 7)
RIGHT_B = (8, 1)
# (kind, frame height, border top, border bottom)
ROWS = [("hist", 82, 5, 8), ("scat", 196, 1, 9),
        ("hist", 82, 8, 8), ("scat", 203, 1, 9),
        ("hist", 82, 8, 8), ("scat", 203, 1, 22)]
XLAB_H = 48
TOTAL_H = sum(fh + bt + bb for _, fh, bt, bb in ROWS) + XLAB_H


def style_axis(ax, show):
    ax.axis_line_color = None
    ax.major_tick_in = 5
    ax.major_tick_out = 0
    ax.major_tick_line_color = "black"
    ax.major_tick_line_width = 1
    ax.minor_tick_line_color = None
    ax.major_label_text_font = FONT
    ax.major_label_text_color = "black"
    if show:
        ax.major_label_text_font_size = "16px"
        ax.major_label_standoff = 3
    else:
        ax.formatter = CustomJSTickFormatter(code="return ''")
        ax.major_label_text_font_size = "0px"
        ax.major_label_standoff = 0


def make_fig(kind, col, fh, bt, bb, xlabels):
    bl, br = LEFT_B if col == 0 else RIGHT_B
    yr = HIST_YR if kind == "hist" else SCAT_YR
    yt = HIST_TICKS if kind == "hist" else SCAT_TICKS
    p = figure(width=bl + FRAME_W + br, height=bt + fh + bb,
               x_range=Range1d(*XR), y_range=Range1d(*yr),
               toolbar_location=None, output_backend="svg", title=None,
               min_border_left=bl, min_border_right=br,
               min_border_top=bt, min_border_bottom=bb,
               x_axis_type=None, y_axis_type=None)
    p.outline_line_color = "black"
    p.outline_line_width = 1
    p.background_fill_color = "white"
    p.border_fill_color = "white"
    for g in (Grid(dimension=0, ticker=FixedTicker(ticks=X_TICKS)),
              Grid(dimension=1, ticker=FixedTicker(ticks=yt))):
        g.grid_line_color = "#b4b4b4"
        g.grid_line_dash = "1 2"
        g.grid_line_width = 1
        p.add_layout(g)
    specs = [("below", X_TICKS, xlabels), ("above", X_TICKS, False),
             ("left", yt, col == 0), ("right", yt, False)]
    for loc, ticks, show in specs:
        ax = LinearAxis(ticker=FixedTicker(ticks=ticks, minor_ticks=[]))
        if show:
            if loc == "below":
                ax.formatter = CustomJSTickFormatter(
                    code="return String(Math.round(tick*10)/10)")
            elif kind == "hist":
                ax.formatter = PrintfTickFormatter(format="%.2f")
            else:
                ax.formatter = PrintfTickFormatter(format="%d")
        style_axis(ax, show)
        p.add_layout(ax, loc)
    return p


def panel_label(p, letter):
    p.add_layout(Label(x=XR[1], y=HIST_YR[1], x_offset=-18, y_offset=-14,
                       text="(%s)" % letter, text_align="right",
                       text_baseline="middle", text_font=FONT,
                       text_font_size="17px", text_color="black"))


def draw_hist_pair(p, a, b, ca, cb, cab):
    left, right = BIN_EDGES[:-1], BIN_EDGES[1:]
    ov = [min(u, v) for u, v in zip(a, b)]
    for vals, c in ((a, ca), (b, cb), (ov, cab)):
        p.quad(left=left, right=right, bottom=0, top=vals,
               fill_color=c, line_color=c, line_width=0.5)


def draw_hist_alpha(p, series, alpha):
    left, right = BIN_EDGES[:-1], BIN_EDGES[1:]
    for vals, c in series:
        p.quad(left=left, right=right, bottom=0, top=vals,
               fill_color=c, fill_alpha=alpha, line_color=None)


def draw_scatter(p, series):
    for xs, c in series:
        n = min(len(xs), len(E_EXP))
        p.scatter(x=xs[:n], y=E_EXP[:n], marker="circle", size=4.6,
                  fill_color=c, line_color=None)


def draw_legend(p, fh, left_px, entries):
    x0, x1 = XR
    y0, y1 = SCAT_YR
    for i, (txt, sub, subx, c) in enumerate(entries):
        ypx = 13 + 21 * i
        p.add_layout(Label(x=x0, y=y1, x_offset=left_px, y_offset=-ypx,
                           text=txt, text_align="left", text_baseline="middle",
                           text_font=FONT, text_font_size="16px",
                           text_color="black"))
        if sub:
            p.add_layout(Label(x=x0, y=y1, x_offset=left_px + subx,
                               y_offset=-(ypx + 5), text=sub,
                               text_align="left", text_baseline="middle",
                               text_font=FONT, text_font_size="11px",
                               text_color="black"))
        xm = x0 + (x1 - x0) * 325.0 / FRAME_W
        ym = y1 - (y1 - y0) * ypx / fh
        p.scatter(x=[xm], y=[ym], marker="circle", size=4.6,
                  fill_color=c, line_color=None)


PANELS = {
    "a": dict(hist=("pair", H_HLE16_NOSOC, H_HLE16_SOC, "#f8a85a", "#86cfec", "#5e9382"),
              scat=[(X_HLE16_NOSOC, C_ORANGE), (X_HLE16_SOC, C_BLUE)],
              leg=(204, [("HLE16 (no SOC)", None, 0, C_ORANGE),
                         ("HLE16 (SOC)", None, 0, C_BLUE)])),
    "b": dict(hist=("pair", H_LDA_NOSOC, H_LDA_SOC, "#b3a1f2", "#f466a8", "#cd2f93"),
              scat=[(X_LDA_NOSOC, C_LDA_NOSOC), (X_LDA_SOC, C_LDA_SOC)],
              leg=(220, [("LDA (no SOC)", None, 0, C_LDA_NOSOC),
                         ("LDA (SOC)", None, 0, C_LDA_SOC)])),
    "c": dict(hist=("pair", H_PBE_NOSOC, H_HLE16_NOSOC, "#90ee70", "#f8b072", "#b89a2a"),
              scat=[(X_PBE_NOSOC, C_GREEN), (X_HLE16_NOSOC, C_ORANGE)],
              leg=(206, [("PBE (no SOC)", None, 0, C_GREEN),
                         ("HLE16 (no SOC)", None, 0, C_ORANGE)])),
    "d": dict(hist=("alpha", [(H_BJ, "#f08a3a"), (H_MBJ, "#6ee03a"), (H_SCAN, "#4a8ee6")]),
              scat=[(X_BJ, C_ORANGE), (X_MBJ, C_GREEN), (X_SCAN, C_BLUE)],
              leg=(248, [("BJ", None, 0, C_ORANGE), ("mBJ", None, 0, C_GREEN),
                         ("SCAN", None, 0, C_BLUE)])),
    "e": dict(hist=("alpha", [(H_HSE06, "#5a5af0"), (H_HSE14, "#74e02c"), (H_HSE06MIX, "#f2c81e")]),
              scat=[(X_HSE06, C_HSE06), (X_HSE14, C_GREEN), (X_HSE06MIX, C_HSE06MIX)],
              leg=(236, [("HSE06", None, 0, C_HSE06), ("HSE14", None, 0, C_GREEN),
                         ("HSE06", "mix", 46, C_HSE06MIX)])),
    "f": dict(hist=("pair", H_PBE0, H_PBE0MIX, "#ff6cff", "#9a7cf4", "#7a3ee6"),
              scat=[(X_PBE0, C_PBE0), (X_PBE0MIX, C_PBE0MIX)],
              leg=(233, [("PBE0", None, 0, C_PBE0),
                         ("PBE0", "mix", 37, C_PBE0MIX)])),
}
GRID_LETTERS = [("a", "b"), ("c", "d"), ("e", "f")]

rows = []
for ri, (kind, fh, bt, bb) in enumerate(ROWS):
    pair = GRID_LETTERS[ri // 2]
    figs = []
    for col, letter in enumerate(pair):
        p = make_fig(kind, col, fh, bt, bb, xlabels=(ri == len(ROWS) - 1))
        spec = PANELS[letter]
        if kind == "hist":
            h = spec["hist"]
            if h[0] == "pair":
                draw_hist_pair(p, *h[1:])
            else:
                draw_hist_alpha(p, h[1], 0.6)
            panel_label(p, letter)
        else:
            draw_scatter(p, spec["scat"])
            draw_legend(p, fh, spec["leg"][0], spec["leg"][1])
        figs.append(p)
    rows.append(row(*figs))


def xlabel_fig(bl, br):
    w = bl + FRAME_W + br
    xl = figure(width=w, height=XLAB_H, x_range=Range1d(0, w),
                y_range=Range1d(XLAB_H, 0), toolbar_location=None,
                output_backend="svg", title=None, min_border=0,
                min_border_left=0, min_border_right=0, min_border_top=0,
                min_border_bottom=0, x_axis_type=None, y_axis_type=None)
    xl.outline_line_color = None
    cx = bl + FRAME_W / 2.0 - 18
    line_y = 23
    common = dict(text_font=FONT, text_color="black", text_baseline="alphabetic")
    xl.add_layout(Label(x=cx - 17.5, y=16, text="E", text_font_style="italic",
                        text_font_size="18px", **common))
    xl.add_layout(Label(x=cx - 6, y=19, text="calc.", text_font_size="12px", **common))
    xl.segment(x0=[cx - 20], y0=[line_y], x1=[cx + 20], y1=[line_y],
               line_color="black", line_width=1)
    xl.add_layout(Label(x=cx - 15.5, y=37, text="E", text_font_style="italic",
                        text_font_size="18px", **common))
    xl.add_layout(Label(x=cx - 4.5, y=40, text="exp.", text_font_size="12px", **common))
    xl.add_layout(Label(x=cx + 25, y=29, text="\u2212 1", text_font_size="20px", **common))
    return xl


rows.append(row(xlabel_fig(*LEFT_B), xlabel_fig(*RIGHT_B)))

# strip with the rotated y-axis titles
strip = figure(width=STRIP_W, height=TOTAL_H, x_range=Range1d(0, STRIP_W),
               y_range=Range1d(TOTAL_H, 0), toolbar_location=None,
               output_backend="svg", title=None, min_border=0,
               min_border_left=0, min_border_right=0, min_border_top=0,
               min_border_bottom=0, x_axis_type=None, y_axis_type=None)
strip.outline_line_color = None
top = 0
for kind, fh, bt, bb in ROWS:
    yc = top + bt + fh / 2.0
    base = dict(angle=math.pi / 2, text_baseline="middle", text_font=FONT,
                text_color="black")
    if kind == "hist":
        strip.add_layout(Label(x=13, y=yc, text="Freq.", text_align="center",
                               text_font_size="26px", **base))
    else:
        strip.add_layout(Label(x=13, y=yc + 50, text="E", text_align="left",
                               text_font_style="italic", text_font_size="26px", **base))
        strip.add_layout(Label(x=18, y=yc + 33, text="exp.", text_align="left",
                               text_font_size="17px", **base))
        strip.add_layout(Label(x=13, y=yc - 3, text="(eV)", text_align="left",
                               text_font_size="26px", **base))
    top += bt + fh + bb

layout = row(strip, column(*rows))
open("out.html", "w").write(file_html(layout, INLINE, title="band gaps"))
